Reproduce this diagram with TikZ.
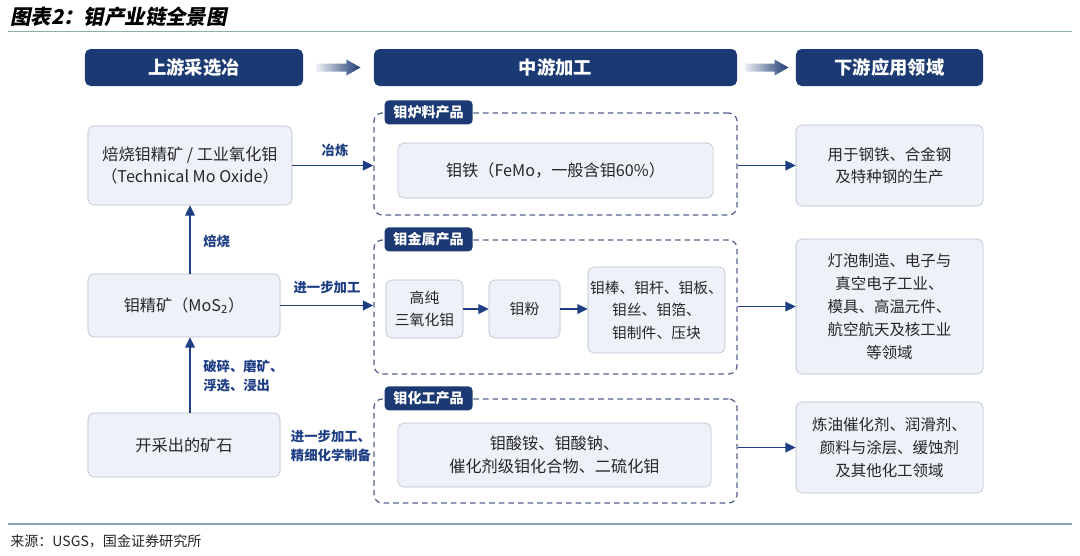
\documentclass[tikz,border=0pt]{standalone}
\usepackage{fontspec}
\setmainfont{Noto Sans CJK SC}
\newfontfamily\titlefont[FakeSlant=0.2]{Noto Sans CJK SC}
\usetikzlibrary{calc}
\usetikzlibrary{arrows.meta}
\usetikzlibrary{positioning}

\definecolor{navy}{HTML}{1B3A73}
\definecolor{flowblue}{HTML}{1E3E84}
\definecolor{boxfill}{HTML}{EEF2F8}
\definecolor{boxline}{HTML}{B4BDCA}
\definecolor{dashline}{HTML}{53628A}
\definecolor{txt}{HTML}{262626}
\definecolor{rulegreen}{HTML}{8DB0A6}
\definecolor{ruleblue}{HTML}{86A2B8}

\tikzset{
  header/.style={fill=navy, text=white, rounded corners=4pt, minimum height=0.925cm,
    font=\fontsize{13}{16}\selectfont\bfseries},
  tag/.style={fill=navy, text=white, rounded corners=3pt, minimum width=2.2cm,
    minimum height=0.6cm, inner sep=0pt, font=\fontsize{10}{12}\selectfont\bfseries},
  card/.style={draw=boxline, fill=boxfill, rounded corners=4pt, text=txt, align=center,
    inner sep=0pt, font=\fontsize{11.5}{16}\selectfont},
  group/.style={draw=dashline, line width=0.9pt, dash pattern=on 1.4mm off 1mm,
    rounded corners=6pt, minimum width=9.075cm},
  flow/.style={draw=flowblue, line width=1.4pt, -{Stealth[length=2.6mm, width=2.4mm, inset=0pt]}},
  steplabel/.style={text=flowblue, align=left, inner sep=0pt,
    font=\fontsize{9.5}{14}\selectfont\bfseries},
}

\begin{document}
\begin{tikzpicture}[x=0.025cm, y=-0.025cm]
\useasboundingbox (0,0) rectangle (1080,555);
% title, rules, source
\node[anchor=west, inner sep=0pt, font=\titlefont\fontsize{14.5}{16}\selectfont\bfseries] (title) at (10,17) {图表2：钼产业链全景图};
\draw[rulegreen, line width=0.8pt] (8,31.5) -- (1072,31.5);
\draw[ruleblue, line width=0.8pt] (8,524) -- (1072,524);
\node[anchor=west, inner sep=0pt, text=txt, font=\fontsize{10}{12}\selectfont] (source) at (10,541) {来源：USGS，国金证券研究所};

% headers
\node[header, minimum width=5.45cm] (up) at (194,67.5) {上游采选冶};
\node[header, minimum width=9.075cm] (mid) at (555.5,67.5) {中游加工};
\node[header, minimum width=4.675cm] (down) at (889.5,67.5) {下游应用领域};
\foreach \a/\b in {up/mid, mid/down}
  \shade[left color=navy!8, right color=navy, shift={($(\a.east)!0.5!(\b.west)$)}]
    (-22,-4) -- (8,-4) -- (8,-8) -- (22,0) -- (8,8) -- (8,4) -- (-22,4) -- cycle;

% upstream
\node[card, minimum width=5.1cm, minimum height=1.975cm] (roast) at (190,165.5) {焙烧钼精矿 / 工业氧化钼\\（Technical Mo Oxide）};
\node[card, minimum width=4.8cm, minimum height=1.575cm] (conc) at (184,305.5) {钼精矿（MoS\textsubscript{2}）};
\node[card, minimum width=4.8cm, minimum height=1.6cm] (ore) at (184,445) {开采出的矿石};
\draw[flow] (conc.north -| roast.south) -- (roast.south);
\draw[flow] (ore.north -| roast.south) -- (conc.south -| roast.south);
\node[steplabel, anchor=west] (l1) at (203,241) {焙烧};
\node[steplabel, anchor=west] (l2) at (203,376) {破碎、磨矿、\\浮选、浸出};

% midstream
\node[group, minimum height=2.55cm] (g1) at (555.5,164) {};
\node[group, minimum height=3.35cm] (g2) at (555.5,307) {};
\node[group, minimum height=2.6cm] (g3) at (555.5,451) {};
\foreach \g/\t in {g1/钼炉料产品, g2/钼金属产品, g3/钼化工产品}
  \node[tag, anchor=west] (\g tag) at ([xshift=0.275cm]\g.north west) {\t};

\node[card, minimum width=7.875cm, minimum height=1.375cm] (femo) at (555.5,170.5) {钼铁（FeMo，一般含钼60\%）};
\node[card, font=\fontsize{10.5}{16}\selectfont, minimum width=1.925cm, minimum height=1.45cm] (hpmo) at (424.5,309) {高纯\\三氧化钼};
\node[card, font=\fontsize{10.5}{16}\selectfont, minimum width=1.775cm, minimum height=1.45cm] (powder) at (524.5,309) {钼粉};
\node[card, font=\fontsize{10.5}{16}\selectfont, minimum width=3.425cm, minimum height=2.15cm] (metal) at (656.5,310) {钼棒、钼杆、钼板、\\钼丝、钼箔、\\钼制件、压块};
\draw[flow] (hpmo) -- (powder);
\draw[flow] (powder.east) -- (powder.east -| metal.west);
\node[card, minimum width=7.825cm, minimum height=1.6cm] (chem) at (554.5,455) {钼酸铵、钼酸钠、\\催化剂级钼化合物、二硫化钼};

\draw[flow] (roast.east) -- (roast.east -| g1.west);
\draw[flow] (conc.east) -- (conc.east -| g2.west);
\node[steplabel] (l3) at (335,150) {冶炼};
\node[steplabel] (l4) at (327,287) {进一步加工};
\node[steplabel] (l5) at (331,446) {进一步加工、\\精细化学制备};

% downstream
\node[card, font=\fontsize{11}{16}\selectfont, minimum width=4.675cm, minimum height=2.025cm] (steel) at (889.5,165.5) {用于钢铁、合金钢\\及特种钢的生产};
\node[card, font=\fontsize{11}{16.3}\selectfont, minimum width=4.675cm, minimum height=3.375cm] (elec) at (889.5,306.5) {灯泡制造、电子与\\真空电子工业、\\模具、高温元件、\\航空航天及核工业\\等领域};
\node[card, font=\fontsize{11}{16.3}\selectfont, minimum width=4.675cm, minimum height=2.275cm] (catal) at (889.5,447.5) {炼油催化剂、润滑剂、\\颜料与涂层、缓蚀剂\\及其他化工领域};
\draw[flow] (g1.east |- steel.west) -- (steel.west);
\draw[flow] (g2.east |- elec.west) -- (elec.west);
\draw[flow] (g3.east |- catal.west) -- (catal.west);
\end{tikzpicture}
\end{document}
